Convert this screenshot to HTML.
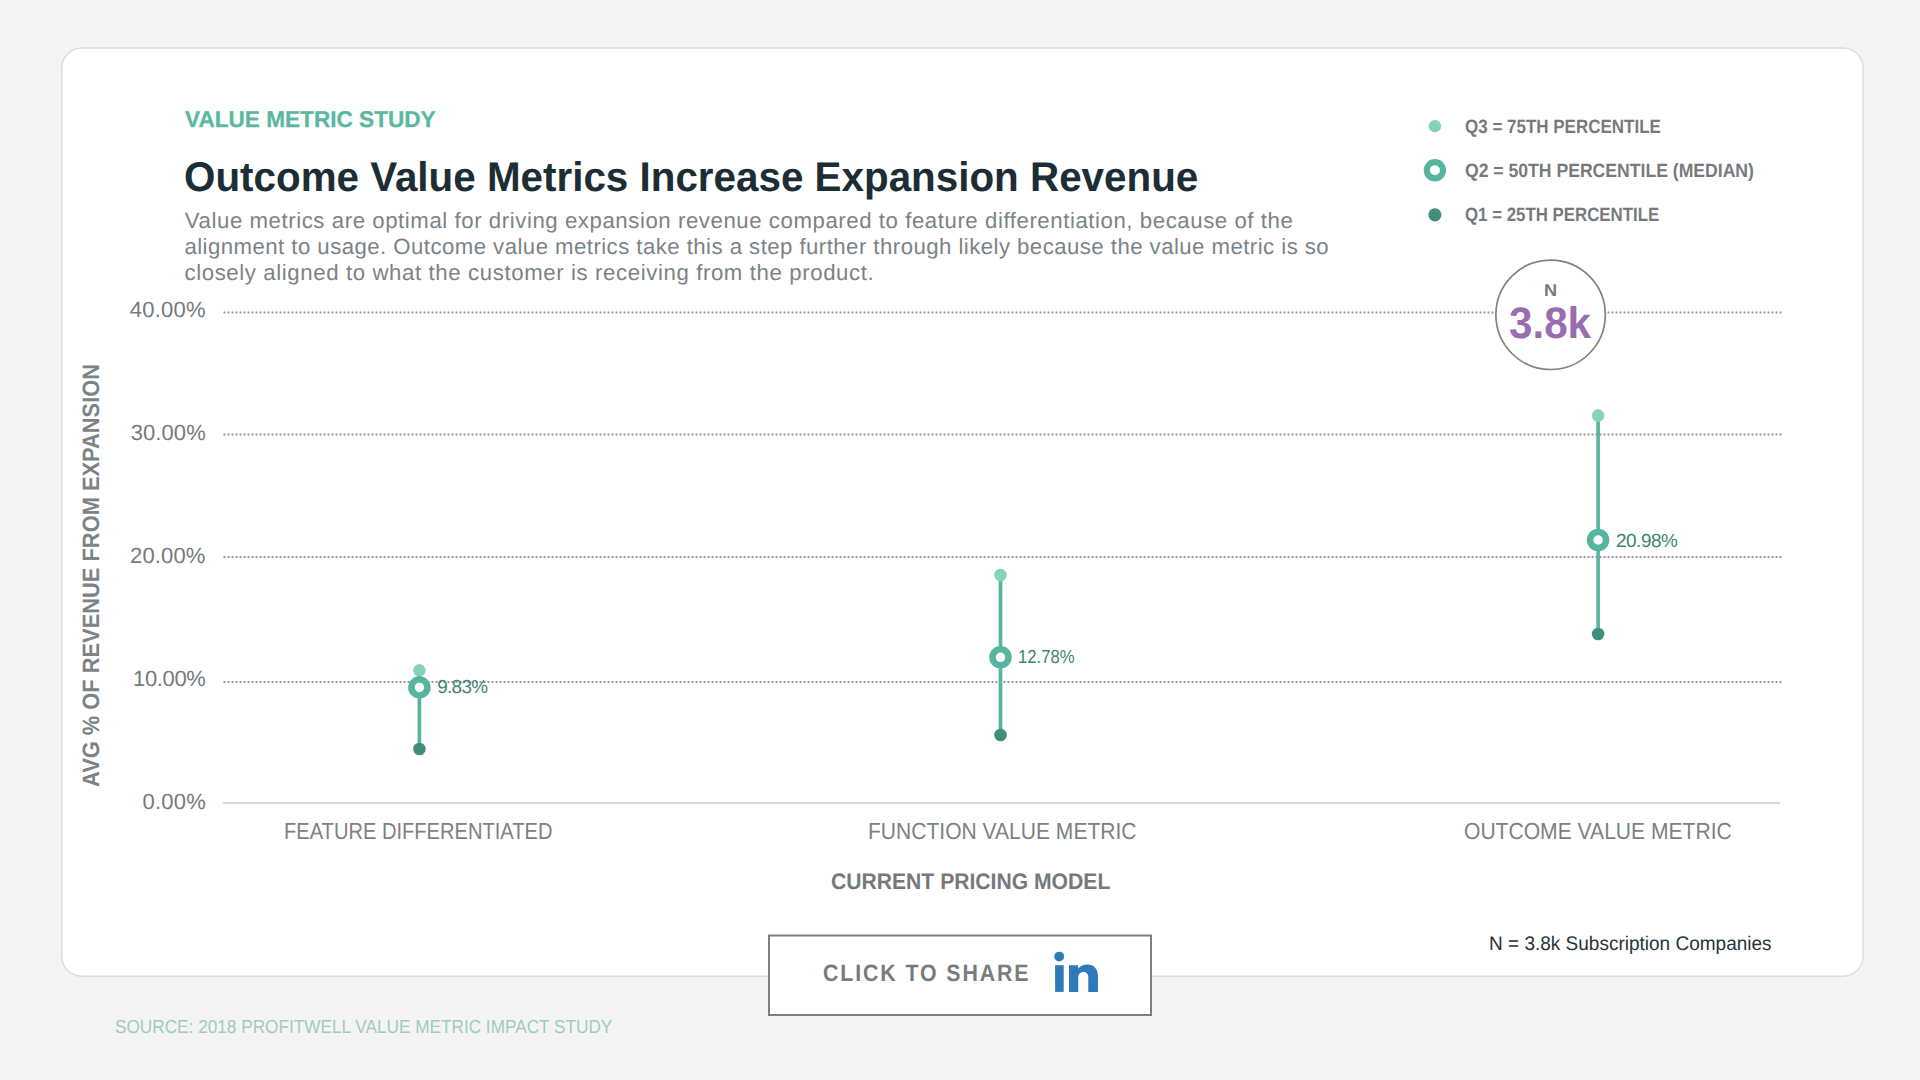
<!DOCTYPE html>
<html lang="en">
<head>
<meta charset="utf-8">
<title>Outcome Value Metrics Increase Expansion Revenue</title>
<style>

html,body{margin:0;padding:0;}
body{width:1920px;height:1080px;overflow:hidden;position:relative;background:#f4f4f4;font-family:"Liberation Sans",sans-serif;}
.t{position:absolute;white-space:nowrap;line-height:1;transform-origin:0 0;margin:0;padding:0;text-rendering:geometricPrecision;}

.gfx{position:absolute;left:0;top:0;width:1920px;height:1080px;overflow:visible;}
</style>
</head>
<body>
<svg class="gfx" width="1920" height="1080" viewBox="0 0 1920 1080">
  <!-- card -->
  <rect x="61.75" y="48.1" width="1801.35" height="928.1" rx="20" ry="20" fill="#fff" stroke="#dcdcdc" stroke-width="1.5"/>
  <!-- gridlines -->
  <g stroke="#989898" stroke-width="2" stroke-dasharray="2 2" fill="none">
    <line x1="223.5" y1="312.5" x2="1782.5" y2="312.5"/>
    <line x1="223.5" y1="434.4" x2="1782.5" y2="434.4"/>
    <line x1="223.5" y1="557.1" x2="1782.5" y2="557.1"/>
    <line x1="223.5" y1="682.1" x2="1782.5" y2="682.1"/>
  </g>
  <line x1="223" y1="803" x2="1780" y2="803" stroke="#d8d8d8" stroke-width="2"/>
  <!-- N circle -->
  <circle cx="1550.6" cy="314.8" r="54.7" fill="#fff" stroke="#7e8487" stroke-width="1.7"/>
  <!-- legend -->
  <circle cx="1434.9" cy="126.2" r="6.2" fill="#84d2b8"/>
  <circle cx="1434.9" cy="170.3" r="8.1" fill="#fff" stroke="#55b59e" stroke-width="6.2"/>
  <circle cx="1434.9" cy="214.8" r="6.6" fill="#3f8f7a"/>
  <!-- series 1 -->
  <g>
    <line x1="419.4" y1="670.4" x2="419.4" y2="749" stroke="#5ab59e" stroke-width="3.7"/>
    <circle cx="419.4" cy="670.4" r="6.3" fill="#86d3b9"/>
    <circle cx="419.4" cy="749" r="6.3" fill="#3f8f7a"/>
    <circle cx="419.4" cy="687.4" r="8" fill="#fff" stroke="#55b59e" stroke-width="6.5"/>
  </g>
  <!-- series 2 -->
  <g>
    <line x1="1000.5" y1="575" x2="1000.5" y2="735" stroke="#5ab59e" stroke-width="3.7"/>
    <circle cx="1000.5" cy="575" r="6.3" fill="#86d3b9"/>
    <circle cx="1000.5" cy="735" r="6.3" fill="#3f8f7a"/>
    <circle cx="1000.5" cy="657.3" r="8" fill="#fff" stroke="#55b59e" stroke-width="6.5"/>
  </g>
  <!-- series 3 -->
  <g>
    <line x1="1598.1" y1="415.6" x2="1598.1" y2="634" stroke="#5ab59e" stroke-width="3.7"/>
    <circle cx="1598.1" cy="415.6" r="6.3" fill="#86d3b9"/>
    <circle cx="1598.1" cy="634" r="6.3" fill="#3f8f7a"/>
    <circle cx="1598.1" cy="540" r="8" fill="#fff" stroke="#55b59e" stroke-width="6.5"/>
  </g>
</svg>
<svg class="gfx" width="1920" height="1080" viewBox="0 0 1920 1080">
  <!-- share button -->
  <rect x="769" y="935.5" width="382" height="79.5" fill="#fff" stroke="#778083" stroke-width="2"/>
  <!-- linkedin "in" -->
  <g fill="#2e79b9">
    <circle cx="1059.2" cy="956.6" r="4.95"/>
    <rect x="1055.1" y="965.2" width="8.6" height="26.7"/>
    <path d="M1069 965.2 H1078.2 V968.8 C1080 966.2 1083.2 964.5 1087.2 964.5 C1094.3 964.5 1097.95 969 1097.95 976.5 V991.9 H1088.3 V977.8 C1088.3 974.2 1086.8 972 1083.5 972 C1080.2 972 1078.2 974.3 1078.2 977.8 V991.9 H1069 Z"/>
  </g>
</svg>
<div class="t" id="kicker" style="left:184.75px;top:108.30px;font-size:22.8px;font-weight:700;color:#5bb7a0;transform:scaleX(0.9913);-webkit-text-stroke:0.3px #5bb7a0;">VALUE METRIC STUDY</div>
<div class="t" id="title" style="left:184.12px;top:156.40px;font-size:41.5px;font-weight:700;color:#1c2d35;transform:scaleX(0.9729);">Outcome Value Metrics Increase Expansion Revenue</div>
<div class="t" id="p1" style="left:184.86px;top:209.50px;font-size:22.2px;font-weight:400;color:#7c8386;letter-spacing:0.570px;">Value metrics are optimal for driving expansion revenue compared to feature differentiation, because of the</div>
<div class="t" id="p2" style="left:184.42px;top:235.70px;font-size:22.2px;font-weight:400;color:#7c8386;letter-spacing:0.454px;">alignment to usage. Outcome value metrics take this a step further through likely because the value metric is so</div>
<div class="t" id="p3" style="left:184.43px;top:261.70px;font-size:22.2px;font-weight:400;color:#7c8386;letter-spacing:0.615px;">closely aligned to what the customer is receiving from the product.</div>
<div class="t" id="y40" style="left:129.87px;top:298.70px;font-size:22.0px;font-weight:400;color:#747b7e;letter-spacing:0.225px;">40.00%</div>
<div class="t" id="y30" style="left:130.65px;top:421.60px;font-size:22.0px;font-weight:400;color:#747b7e;letter-spacing:0.092px;">30.00%</div>
<div class="t" id="y20" style="left:130.07px;top:544.75px;font-size:22.0px;font-weight:400;color:#747b7e;letter-spacing:0.147px;">20.00%</div>
<div class="t" id="y10" style="left:133.12px;top:667.80px;font-size:22.0px;font-weight:400;color:#747b7e;letter-spacing:-0.379px;">10.00%</div>
<div class="t" id="y0" style="left:142.47px;top:790.75px;font-size:22.0px;font-weight:400;color:#747b7e;letter-spacing:0.218px;">0.00%</div>
<div class="t" id="l3" style="left:1464.98px;top:117.80px;font-size:19.3px;font-weight:700;color:#777a7c;transform:scaleX(0.8811);">Q3 = 75TH PERCENTILE</div>
<div class="t" id="l2" style="left:1464.95px;top:161.90px;font-size:19.3px;font-weight:700;color:#777a7c;transform:scaleX(0.9126);">Q2 = 50TH PERCENTILE (MEDIAN)</div>
<div class="t" id="l1" style="left:1464.99px;top:205.60px;font-size:19.3px;font-weight:700;color:#777a7c;transform:scaleX(0.8733);">Q1 = 25TH PERCENTILE</div>
<div class="t" id="N" style="left:1543.61px;top:282.30px;font-size:17.0px;font-weight:700;color:#73787b;transform:scaleX(1.0678);">N</div>
<div class="t" id="k38" style="left:1509.27px;top:301.70px;font-size:44.2px;font-weight:700;color:#9a6db1;transform:scaleX(0.9542);">3.8k</div>
<div class="t" id="v1" style="left:437.25px;top:679.40px;font-size:18.9px;font-weight:400;color:#3f8572;letter-spacing:-0.706px;">9.83%</div>
<div class="t" id="v2" style="left:1018.07px;top:649.40px;font-size:18.9px;font-weight:400;color:#3f8572;transform:scaleX(0.8811);">12.78%</div>
<div class="t" id="v3" style="left:1616.03px;top:532.60px;font-size:18.9px;font-weight:400;color:#3f8572;letter-spacing:-0.458px;">20.98%</div>
<div class="t" id="x1" style="left:284.04px;top:820.30px;font-size:23.2px;font-weight:400;color:#7b8184;transform:scaleX(0.8671);">FEATURE DIFFERENTIATED</div>
<div class="t" id="x2" style="left:867.57px;top:820.00px;font-size:23.2px;font-weight:400;color:#7b8184;transform:scaleX(0.9076);">FUNCTION VALUE METRIC</div>
<div class="t" id="x3" style="left:1463.89px;top:820.40px;font-size:23.2px;font-weight:400;color:#7b8184;transform:scaleX(0.9090);">OUTCOME VALUE METRIC</div>
<div class="t" id="xt" style="left:831.27px;top:871.20px;font-size:22.4px;font-weight:700;color:#737a7d;transform:scaleX(0.9434);">CURRENT PRICING MODEL</div>
<div class="t" id="nsub" style="left:1488.80px;top:935.30px;font-size:19.75px;font-weight:400;color:#26333a;transform:scaleX(0.9622);">N = 3.8k Subscription Companies</div>
<div class="t" id="share" style="left:822.87px;top:963.00px;font-size:23.7px;font-weight:700;color:#777c7e;letter-spacing:2.107px;transform:scaleX(0.9000);">CLICK TO SHARE</div>
<div class="t" id="src" style="left:114.75px;top:1018.00px;font-size:18.75px;font-weight:400;color:#a0ccba;transform:scaleX(0.9174);">SOURCE: 2018 PROFITWELL VALUE METRIC IMPACT STUDY</div>
<div class="t" id="yl" style="left:81.10px;top:786.72px;font-size:23.7px;font-weight:700;color:#7b8386;transform:rotate(-90deg) scaleX(0.9228);">AVG % OF REVENUE FROM EXPANSION</div>
</body>
</html>
